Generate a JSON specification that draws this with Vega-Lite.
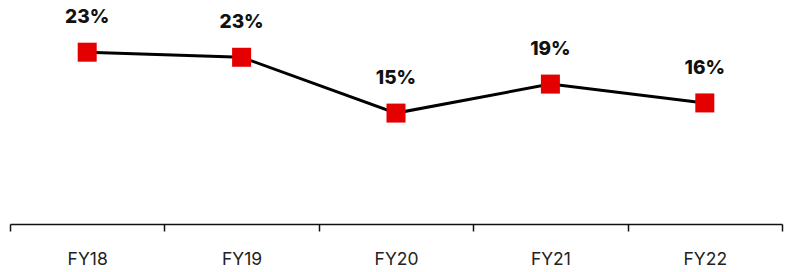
{
  "$schema": "https://vega.github.io/schema/vega-lite/v6.json",
  "width": 772,
  "height": 224,
  "autosize": {"type": "none"},
  "padding": {"left": 10, "top": 0, "right": 5, "bottom": 48},
  "background": "white",
  "config": {"view": {"stroke": null}},
  "data": {"values": [
    {"year": "FY18", "value": 23.4, "label": "23%"},
    {"year": "FY19", "value": 22.7, "label": "23%"},
    {"year": "FY20", "value": 15.0, "label": "15%"},
    {"year": "FY21", "value": 19.0, "label": "19%"},
    {"year": "FY22", "value": 16.4, "label": "16%"}
  ]},
  "encoding": {
    "x": {"field": "year", "type": "nominal", "sort": null,
      "scale": {"type": "band", "paddingInner": 0, "paddingOuter": 0},
      "axis": {"title": null, "labelAngle": 0, "tickBand": "extent", "domainColor": "#111", "domainWidth": 1.5,
        "tickColor": "#111", "tickWidth": 1.5, "tickSize": 7, "labelPadding": 19, "labelFontSize": 17.5,
        "labelFont": "Inter", "labelColor": "#222", "grid": false}},
    "y": {"field": "value", "type": "quantitative", "scale": {"domain": [-0.3, 30.6], "nice": false, "zero": false}, "axis": null}
  },
  "layer": [
    {"mark": {"type": "line", "color": "black", "strokeWidth": 3}},
    {"mark": {"type": "point", "shape": "square", "filled": true, "size": 361, "color": "#e50000", "opacity": 1}},
    {"mark": {"type": "text", "dy": -35, "fontSize": 19, "fontWeight": 800, "font": "Inter", "color": "#111"},
     "encoding": {"text": {"field": "label"}}}
  ]
}
